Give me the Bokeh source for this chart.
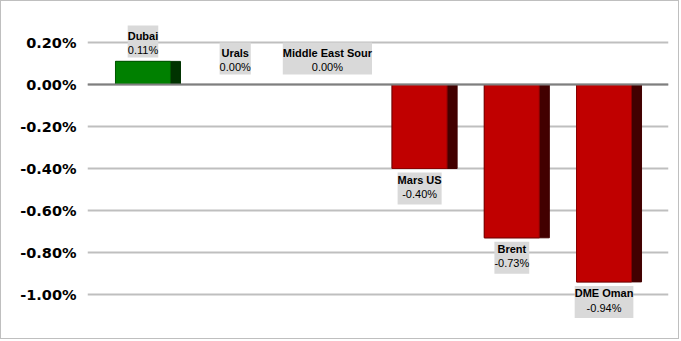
from bokeh.plotting import figure
from bokeh.models import ColumnDataSource, FixedTicker, Span
from bokeh.core.properties import value
from bokeh.embed import file_html
from bokeh.resources import INLINE

# ---- data ----
categories = ["Dubai", "Urals", "Middle East Sour", "Mars US", "Brent", "DME Oman"]
changes = [0.11, 0.00, 0.00, -0.40, -0.73, -0.94]          # percent
tick_values = [0.2, 0.0, -0.2, -0.4, -0.6, -0.8, -1.0]
tick_labels = ["0.20%", "0.00%", "-0.20%", "-0.40%", "-0.60%", "-0.80%", "-1.00%"]

# ---- derived ----
n = len(categories)
xs = list(range(1, n + 1))
px_per_cat = 92.2
front_w = 55 / px_per_cat
total_w = 65 / px_per_cat
front_x = [x - 5 / px_per_cat for x in xs]
front_col = ["#008000" if v > 0 else "#C00000" for v in changes]
side_col = ["#003300" if v > 0 else "#420000" for v in changes]
edge_col = ["#005A00" if v > 0 else "#8A0000" for v in changes]
val_txt = [f"{v:.2f}%" for v in changes]
box_txt = [f"{c}\n{t}" for c, t in zip(categories, val_txt)]
name_txt = [f"{c}\n " for c in categories]
value_txt = [f" \n{t}" for t in val_txt]
anchors = ["top_center" if v < 0 else "bottom_center" for v in changes]
box_off = [4 if v < 0 else (-4 if v > 0 else -10) for v in changes]
txt_off = [o - 2.75 if v < 0 else o + 2.75 for o, v in zip(box_off, changes)]

src = ColumnDataSource(dict(x=xs, fx=front_x, top=changes, fc=front_col, sc=side_col, ec=edge_col,
                            box=box_txt, name=name_txt, val=value_txt,
                            anchor=anchors, boff=box_off, toff=txt_off))

p = figure(width=679, height=339, output_backend="svg", toolbar_location=None,
           x_range=(0.344, 6.645), y_range=(-1.1714, 0.3524),
           min_border_left=86, min_border_right=12, min_border_top=9, min_border_bottom=10)
p.styles = {"border": "1px solid #BFBFBF"}
p.outline_line_color = None
p.xaxis.visible = False
p.xgrid.visible = False

p.yaxis.ticker = FixedTicker(ticks=tick_values)
p.yaxis.major_label_overrides = {t: l for t, l in zip(tick_values, tick_labels)}
p.yaxis.axis_line_color = None
p.yaxis.major_tick_line_color = None
p.yaxis.minor_tick_line_color = None
p.yaxis.major_label_standoff = 5
p.yaxis.major_label_text_font = "DejaVu Sans"
p.yaxis.major_label_text_font_style = "bold"
p.yaxis.major_label_text_font_size = "14.5px"
p.yaxis.major_label_text_color = "#000000"
p.ygrid.grid_line_color = "#BFBFBF"
p.ygrid.grid_line_width = 2

p.add_layout(Span(location=0, dimension="width", line_color="#7F7F7F", line_width=2))

# 3D-ish bars: dark side + front face
p.vbar(x="x", width=total_w, bottom=0, top="top", source=src,
       fill_color="sc", line_color="sc", line_width=1)
p.vbar(x="fx", width=front_w, bottom=0, top="top", source=src,
       fill_color="fc", line_color="ec", line_width=1)

common = dict(x="fx", y="top", source=src, anchor="anchor",
              text_align="center", text_font=value("Liberation Sans"),
              text_font_size="11px", text_color="#000000", padding=(0, 4))
p.text(text="box", text_font_style="bold", text_alpha=0, y_offset="boff",
       text_line_height=1.0, background_fill_color="#D9D9D9", **common)
p.text(text="name", text_font_style="bold", y_offset="toff", text_line_height=1.2, **common)
p.text(text="val", text_font_style="normal", y_offset="toff", text_line_height=1.2, **common)

open("out.html", "w").write(file_html(p, INLINE))
